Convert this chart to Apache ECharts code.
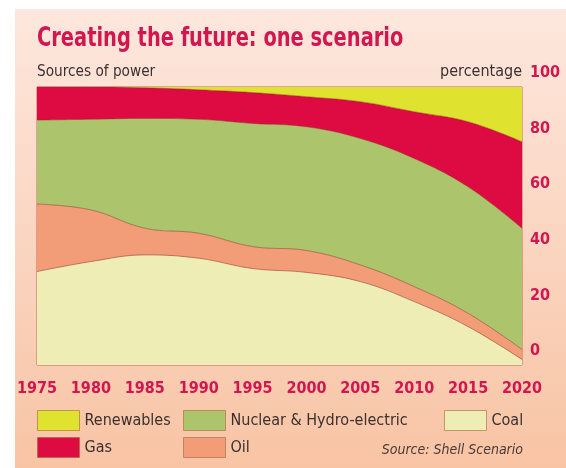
<!DOCTYPE html>
<html>
<head>
<meta charset="utf-8">
<script src="https://cdn.jsdelivr.net/npm/echarts/dist/echarts.min.js"></script>
<style>
  html, body { margin: 0; padding: 0; background: #fff; }
  #chart { width: 566px; height: 468px; }
</style>
</head>
<body>
<div id="chart"></div>
<script>
// data, percent of power by source
var years = ['1975', '1980', '1985', '1990', '1995', '2000', '2005', '2010', '2015', '2020'];
var coal = [33.6, 37.2, 39.6, 38.4, 34.7, 33.3, 30.0, 22.8, 13.8, 2.0];
var oil = [24.3, 18.6, 9.6, 9.0, 7.9, 7.9, 6.0, 5.4, 4.8, 3.6];
var nuclear = [30.2, 32.6, 39.5, 41.0, 44.3, 44.5, 45.5, 46.1, 45.5, 43.6];
var gas = [11.9, 11.6, 11.0, 10.6, 11.1, 10.8, 13.2, 16.8, 23.4, 31.1];
var renewables = [0, 0, 0.3, 1.0, 2.0, 3.5, 5.3, 8.9, 12.5, 19.7];

var narrow = '"Liberation Sans Narrow", "DejaVu Sans Condensed", sans-serif';
var red = '#d2164f';
var ink = '#3a3030';

var myChart = echarts.init(document.getElementById('chart'));

// one stacked area layer
function layer(name, data, color, lineWidth) {
  return {
    name: name,
    type: 'line',
    stack: 'total',
    data: data,
    smooth: 0.4,
    symbol: 'none',
    lineStyle: { width: lineWidth, color: 'rgba(130,50,30,0.5)' },
    areaStyle: { color: color, opacity: 1 },
    itemStyle: { color: color },
    emphasis: { disabled: true }
  };
}

var legendCommon = {
  orient: 'vertical',
  top: 410,
  padding: 0,
  itemWidth: 42,
  itemHeight: 20,
  itemGap: 6,
  icon: 'rect',
  selectedMode: false,
  itemStyle: { borderColor: 'rgba(170,100,60,0.6)', borderWidth: 1 },
  textStyle: { fontFamily: narrow, fontSize: 16, color: ink }
};

var option = {
  animation: false,
  graphic: [
    {
      type: 'rect', z: -10, silent: true,
      shape: { x: 15, y: 9, width: 551, height: 459 },
      style: {
        fill: new echarts.graphic.LinearGradient(0, 0, 0, 1, [
          { offset: 0, color: '#fde7de' },
          { offset: 1, color: '#f8c4a4' }
        ])
      }
    },
    {
      // squeezed a bit to look like the heavy condensed face of the original
      type: 'text', x: 37, y: 39, scaleX: 0.8,
      style: { text: 'Creating the future: one scenario', font: 'bold 27px ' + narrow, fill: red, verticalAlign: 'middle' }
    },
    {
      type: 'text', x: 37, y: 72, scaleX: 0.95,
      style: { text: 'Sources of power', font: '16px ' + narrow, fill: ink, verticalAlign: 'middle' }
    },
    {
      type: 'text', x: 522, y: 72,
      style: { text: 'percentage', font: '16px ' + narrow, fill: ink, align: 'right', verticalAlign: 'middle' }
    },
    {
      type: 'text', x: 523, y: 450,
      style: { text: 'Source: Shell Scenario', font: 'italic 14px ' + narrow, fill: '#4a3a35', align: 'right', verticalAlign: 'middle' }
    }
  ],
  legend: [
    Object.assign({ left: 37, data: ['Renewables', 'Gas'] }, legendCommon),
    Object.assign({ left: 183, data: ['Nuclear & Hydro-electric', 'Oil'] }, legendCommon),
    Object.assign({ left: 444, data: ['Coal'] }, legendCommon)
  ],
  grid: {
    left: 37, right: 44, top: 87, bottom: 103,
    show: true,
    borderColor: '#c2685a',
    borderWidth: 1
  },
  xAxis: {
    type: 'category',
    boundaryGap: false,
    data: years,
    axisLine: { show: false },
    axisTick: { show: false },
    axisLabel: { margin: 16, color: red, fontFamily: narrow, fontWeight: 'bold', fontSize: 16 }
  },
  yAxis: {
    type: 'value',
    position: 'right',
    min: 0,
    max: 100,
    interval: 20,
    splitLine: { show: false },
    axisLine: { show: false },
    axisTick: { show: false },
    axisLabel: {
      margin: 8, color: red, fontFamily: narrow, fontWeight: 'bold', fontSize: 16,
      verticalAlign: 'bottom', lineHeight: 16, padding: [0, 0, 6, 0]
    }
  },
  series: [
    layer('Coal', coal, '#eeedb6', 1),
    layer('Oil', oil, '#f29c78', 1),
    layer('Nuclear & Hydro-electric', nuclear, '#acc46c', 1),
    layer('Gas', gas, '#de0a42', 1),
    layer('Renewables', renewables, '#dfe22e', 0)
  ]
};

myChart.setOption(option);
</script>
</body>
</html>
